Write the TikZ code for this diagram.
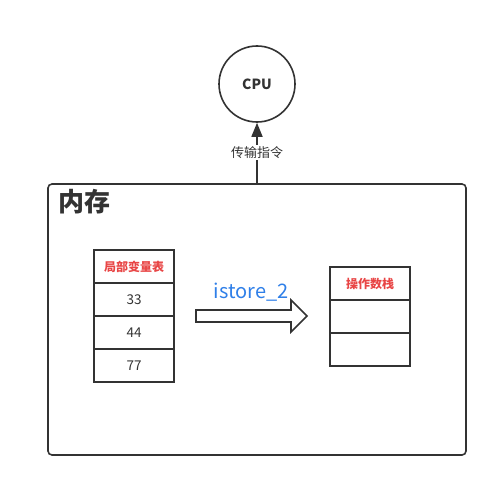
\documentclass[tikz,border=0pt]{standalone}
\usepackage{fontspec}
\setmainfont{Noto Sans CJK SC}
\usetikzlibrary{arrows.meta,shapes.arrows}
\definecolor{ln}{HTML}{333333}
\definecolor{hd}{HTML}{E84545}
\definecolor{bl}{HTML}{2F7FE8}
\tikzset{
  cell/.style={draw=ln,line width=1.6pt,minimum width=80pt,minimum height=33pt,inner sep=0pt,font=\fontsize{13.5}{15}\selectfont,text=ln},
  hcell/.style={cell,font=\bfseries\fontsize{12}{14}\selectfont,text=hd},
}
\begin{document}
\begin{tikzpicture}[x=1pt,y=-1pt]
\useasboundingbox (0,0) rectangle (498,487);
% memory box
\draw[ln,line width=1.6pt,rounded corners=4pt] (48,184) rectangle (466,455);
\node[anchor=west,inner sep=0pt,font=\bfseries\fontsize{26}{30}\selectfont,text=ln] (mem) at (58,202) {内存};
\coordinate (memtop) at (257,184);
% CPU
\node[draw=ln,line width=1.6pt,circle,minimum size=76pt,inner sep=0pt,font=\bfseries\fontsize{14}{16}\selectfont,text=ln] (cpu) at (257,84) {CPU};
\draw[ln,line width=1.6pt,-{Triangle[length=14pt,width=11pt]}] (memtop) -- (cpu.south)
  node[pos=0.52,fill=white,text=ln,font=\fontsize{13}{15}\selectfont,inner sep=1.5pt] (lbl) {传输指令};
% left table
\node[hcell] (l0) at (134,266.5) {局部变量表};
\node[cell] (l1) at (134,299.5) {33};
\node[cell] (l2) at (134,332.5) {44};
\node[cell] (l3) at (134,365.5) {77};
% right table
\node[hcell] (r0) at (370,283.5) {操作数栈};
\node[cell] (r1) at (370,316.5) {};
\node[cell] (r2) at (370,349.5) {};
% fat arrow
\draw[ln,line width=1.6pt,fill=white] (196,310) -- (291,310) -- (291,300) -- (307,316) -- (291,332) -- (291,322) -- (196,322) -- cycle;
\coordinate (arrtail) at (196,316);
\coordinate (arrtip) at (307,316);
\node[text=bl,font=\fontsize{20}{24}\selectfont] (ist) at (251,292) {istore\_2};
\end{tikzpicture}
\end{document}
